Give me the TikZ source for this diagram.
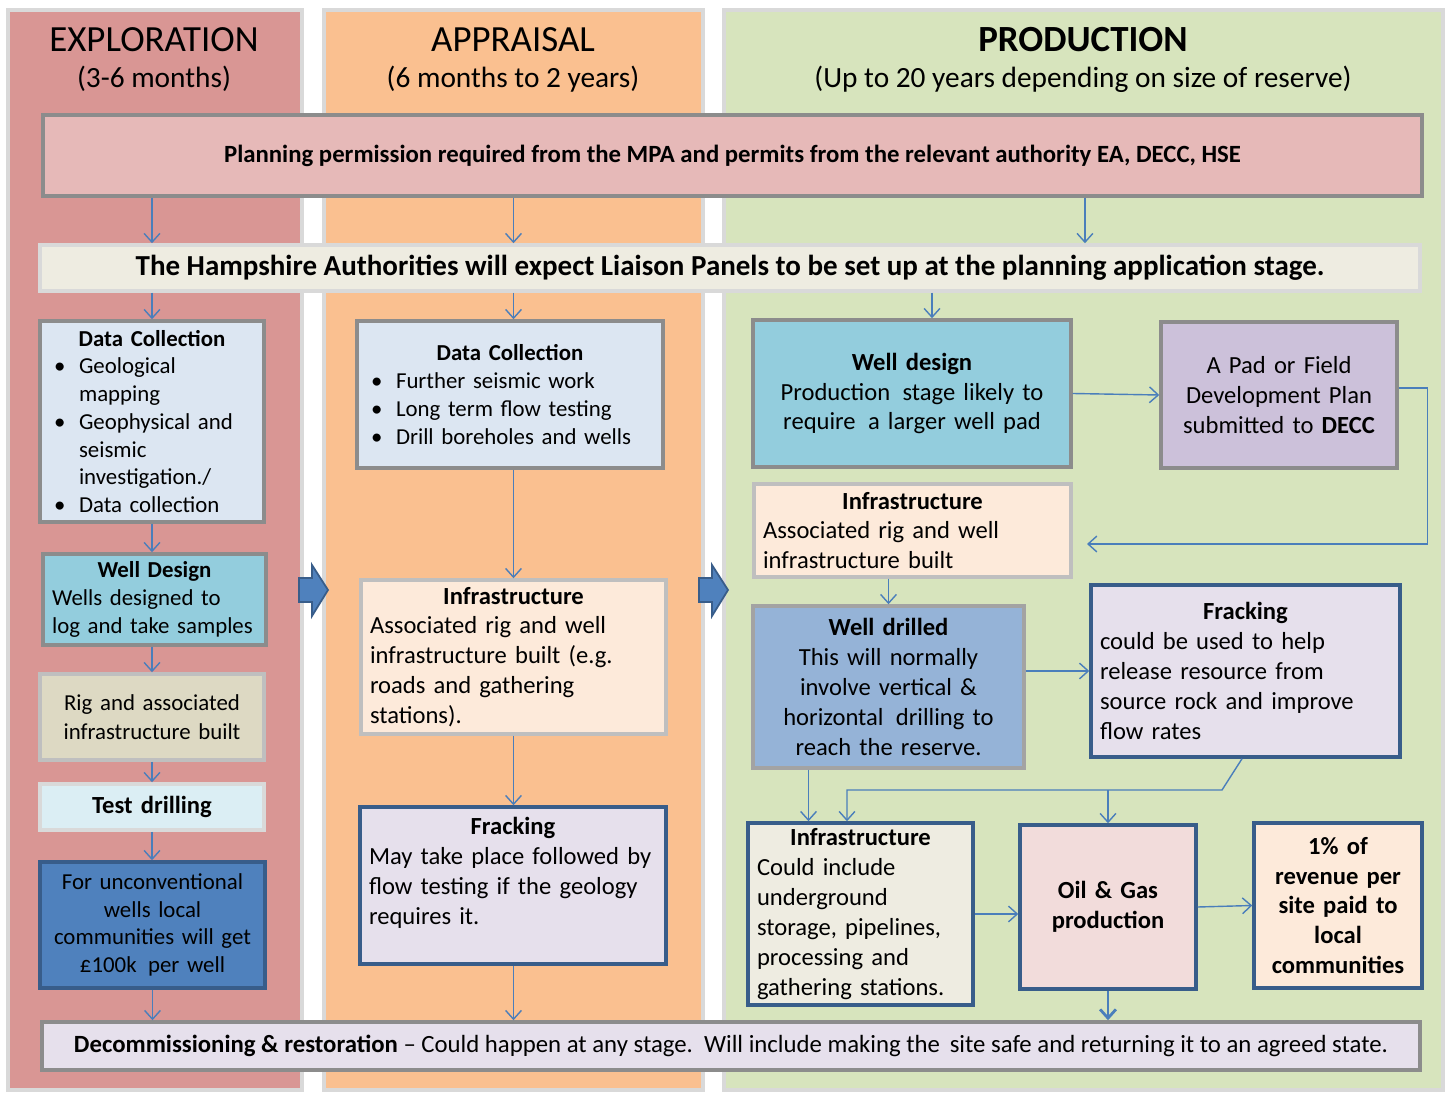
\documentclass[tikz,border=0pt]{standalone}
\usepackage{fontspec}
\setmainfont{Carlito}
\usetikzlibrary{arrows.meta}

\definecolor{explfill}{HTML}{D99694}
\definecolor{apprfill}{HTML}{FAC090}
\definecolor{prodfill}{HTML}{D7E4BD}
\definecolor{colline}{HTML}{D9D9D9}
\definecolor{planfill}{HTML}{E6B9B8}
\definecolor{liaisonfill}{HTML}{EEECE1}
\definecolor{datafill}{HTML}{DCE6F2}
\definecolor{wellfill}{HTML}{93CDDD}
\definecolor{rigfill}{HTML}{DDD9C3}
\definecolor{testfill}{HTML}{DBEEF4}
\definecolor{moneyfill}{HTML}{4F81BD}
\definecolor{infrafill}{HTML}{FDEADA}
\definecolor{frackfill}{HTML}{E6E0EC}
\definecolor{padfill}{HTML}{CCC1DA}
\definecolor{drillfill}{HTML}{95B3D7}
\definecolor{oilfill}{HTML}{F2DCDB}
\definecolor{greyline}{HTML}{8C8C8C}
\definecolor{paleline}{HTML}{BFBFBF}
\definecolor{blueline}{HTML}{385D8A}
\definecolor{linkcol}{HTML}{4A7EBB}

\hyphenpenalty=10000
\newcommand{\boxhead}[1]{{\centering\textbf{#1}\par}}
\newcommand{\bitem}[1]{\par\noindent\hangindent=0.6cm\hangafter=1\makebox[0.6cm][l]{\hspace{0.1cm}\textbullet}#1}

\tikzset{
  column/.style={line width=2pt,draw=colline},
  box/.style={draw,line width=2pt,inner xsep=0.18cm,inner ysep=0pt,
    font=\fontsize{14}{17}\selectfont},
  greybox/.style={box,draw=greyline},
  palebox/.style={box,draw=paleline},
  bluebox/.style={box,draw=blueline},
  small/.style={font=\fontsize{13}{15.8}\selectfont},
  link/.style={draw=linkcol,line width=0.8pt,-{Straight Barb[length=5pt,width=9pt]}},
  bigarrow/.style={fill=moneyfill,draw=blueline,line width=1pt}
}

\begin{document}
\begin{tikzpicture}[x=0.02cm,y=-0.02cm]
\useasboundingbox (0,0) rectangle (1447,1094);

\fill[explfill,column] (8,10) rectangle (302,1090);
\fill[apprfill,column] (324,10) rectangle (703,1090);
\fill[prodfill,column] (724,10) rectangle (1443,1090);

\path[bigarrow] (299,578) -- (312,578) -- (312,565) -- (328,590) -- (312,616) -- (312,602) -- (299,602) -- cycle;
\path[bigarrow] (699,578) -- (712,578) -- (712,565) -- (728,590) -- (712,616) -- (712,602) -- (699,602) -- cycle;

\begin{scope}[every node/.style={font=\fontsize{21}{24}\selectfont}]
  \node (expltitle) at (154,40) {EXPLORATION};
  \node (apprtitle) at (513,40) {APPRAISAL};
  \node (prodtitle) at (1083,40) {\textbf{PRODUCTION}};
\end{scope}
\begin{scope}[every node/.style={font=\fontsize{16.7}{19}\selectfont}]
  \node (explsub) at (154,79) {(3-6 months)};
  \node (apprsub) at (513,79) {(6 months to 2 years)};
  \node (prodsub) at (1083,79) {(Up to 20 years depending on size of reserve)};
\end{scope}

\node[greybox,fill=planfill,minimum width=27.58cm,minimum height=1.62cm,
  font=\fontsize{14.1}{17}\selectfont\bfseries] (planning) at (732.5,155.5)
  {Planning permission required from the MPA and permits from the relevant authority EA, DECC, HSE};
\node[box,draw=colline,fill=liaisonfill,minimum width=27.6cm,minimum height=0.92cm,
  font=\fontsize{16.5}{19}\selectfont\bfseries] (liaison) at (730,268)
  {The Hampshire Authorities will expect Liaison Panels to be set up at the planning application stage.};

% exploration
\node[greybox,small,fill=datafill,text width=4.12cm,minimum height=4.02cm,align=left] (data1) at (152,421.5)
  {\boxhead{Data Collection}\bitem{Geological\newline mapping}\bitem{Geophysical and\newline seismic\newline investigation./}\bitem{Data collection}};
\node[greybox,small,fill=wellfill,text width=4.1cm,minimum height=1.82cm,align=left] (well1) at (154.5,599.5)
  {\boxhead{Well Design}Wells designed to\\log and take samples};
\node[palebox,font=\fontsize{13}{16.5}\selectfont,fill=rigfill,text width=4.12cm,minimum height=1.72cm,align=center] (rig1) at (152,717)
  {Rig and associated\\infrastructure built};
\node[palebox,fill=testfill,draw=colline,text width=4.12cm,minimum height=0.92cm,align=center] (test1) at (152,807)
  {\textbf{Test drilling}};
\node[bluebox,small,fill=moneyfill,text width=4.14cm,minimum height=2.52cm,align=center] (money1) at (152.5,925)
  {For unconventional\\wells local\\communities will get\\£100k\,\ per well};

% appraisal
\node[greybox,small,fill=datafill,text width=5.76cm,minimum height=2.94cm,align=left] (data2) at (510,394.5)
  {\boxhead{Data Collection}\bitem{Further seismic work}\bitem{Long term flow testing}\bitem{Drill boreholes and wells}};
\node[palebox,fill=infrafill,text width=5.74cm,minimum height=3.08cm,align=left] (infra2) at (513.5,657)
  {\boxhead{Infrastructure}Associated rig and well\\infrastructure built (e.g.\\roads and gathering\\stations).};
\node[bluebox,fill=frackfill,text width=5.76cm,minimum height=3.14cm,align=left] (frack2) at (513,885.5)
  {\boxhead{Fracking}May take place followed by\\flow testing if the geology\\requires it.\\\mbox{}};

% production
\node[greybox,fill=wellfill,text width=6cm,minimum height=2.94cm,align=center] (well3) at (912,393.5)
  {\textbf{Well design}\\Production\,\ stage likely to\\require\,\ a larger well pad};
\node[greybox,fill=padfill,text width=4.36cm,minimum height=2.92cm,align=center] (pad3) at (1279,395)
  {A Pad or Field\\Development Plan\\submitted to \textbf{DECC}};
\node[palebox,fill=infrafill,text width=5.98cm,minimum height=1.86cm,align=left] (infra3) at (912.5,530.5)
  {\boxhead{Infrastructure}Associated rig and well\\infrastructure built};
\node[palebox,fill=drillfill,draw=greyline!80,text width=5.06cm,minimum height=3.24cm,align=center] (drill3) at (888.5,687)
  {\textbf{Well drilled}\\This will normally\\involve vertical \&\\horizontal\,\ drilling to\\reach the reserve.};
\node[bluebox,fill=frackfill,text width=5.82cm,minimum height=3.44cm,align=left] (frack3) at (1245.5,671)
  {\boxhead{Fracking}could be used to help\\release resource from\\source rock and improve\\flow rates};
\node[bluebox,fill=liaisonfill,text width=4.14cm,minimum height=3.64cm,align=left] (infra4) at (860.5,914)
  {\boxhead{Infrastructure}Could include\\underground\\storage, pipelines,\\processing and\\gathering stations.};
\node[bluebox,fill=oilfill,text width=3.16cm,minimum height=3.28cm,align=center] (oil3) at (1108,907)
  {\textbf{Oil \& Gas}\\\textbf{production}};
\node[bluebox,fill=infrafill,text width=3cm,minimum height=3.3cm,align=center,font=\fontsize{14}{17}\selectfont\bfseries] (share3) at (1338,905.5)
  {1\% of\\revenue per\\site paid to\\local\\communities};

\node[greybox,fill=frackfill,minimum width=27.56cm,minimum height=0.96cm,font=\fontsize{14.1}{17}\selectfont] (decom) at (731,1046)
  {\textbf{Decommissioning \& restoration} -- Could happen at any stage.\ \ Will include making the\,\ site safe and returning it to an agreed state.};

\coordinate (padback) at (1087,544);
\coordinate (frackbend) at (1222,790);
\coordinate (frackleft) at (847,790);

% connectors
\path (data1.north |- planning.south) edge[link] (data1.north |- liaison.north)
  (infra2.north |- planning.south) edge[link] (infra2.north |- liaison.north)
  ([xshift=3.46cm]well3.north |- planning.south) edge[link] ([xshift=3.46cm]well3.north |- liaison.north);
\path (data1.north |- liaison.south) edge[link] (data1.north)
  (infra2.north |- liaison.south) edge[link] (infra2.north |- data2.north)
  ([xshift=0.4cm]well3.north |- liaison.south) edge[link] ([xshift=0.4cm]well3.north);

\path (data1.south) edge[link] (data1.south |- well1.north)
  (data1.south |- well1.south) edge[link] (rig1.north)
  (rig1.south) edge[link] (test1.north)
  (test1.south) edge[link] (test1.south |- money1.north)
  (money1.south) edge[link] (money1.south |- decom.north);

\path (infra2.north |- data2.south) edge[link] (infra2.north)
  (infra2.south) edge[link] (infra2.south |- frack2.north)
  (infra2.south |- frack2.south) edge[link] (infra2.south |- decom.north);

\draw[link] (well3.east) -- (pad3.west);
\draw[link] ([yshift=0.14cm]pad3.east) -- ++(29,0) |- (padback);
\draw[link] (drill3.north |- infra3.south) -- (drill3.north);
\draw[link] (drill3.east |- frack3.west) -- (frack3.west);
\draw[link] ([xshift=-1.6cm]drill3.south) -- ([xshift=-1.6cm]drill3.south |- infra4.north);
\draw[link] ([xshift=-0.07cm]frack3.south) -- (frackbend) -- (frackleft) -- (frackleft |- infra4.north);
\draw[link] (oil3.north |- frackbend) -- (oil3.north);
\draw[link] (infra4.east) -- (infra4.east -| oil3.west);
\draw[link] (oil3.east) -- (share3.west);
\draw[link,line width=1.6pt] (oil3.south) -- (oil3.south |- decom.north);
\end{tikzpicture}
\end{document}
